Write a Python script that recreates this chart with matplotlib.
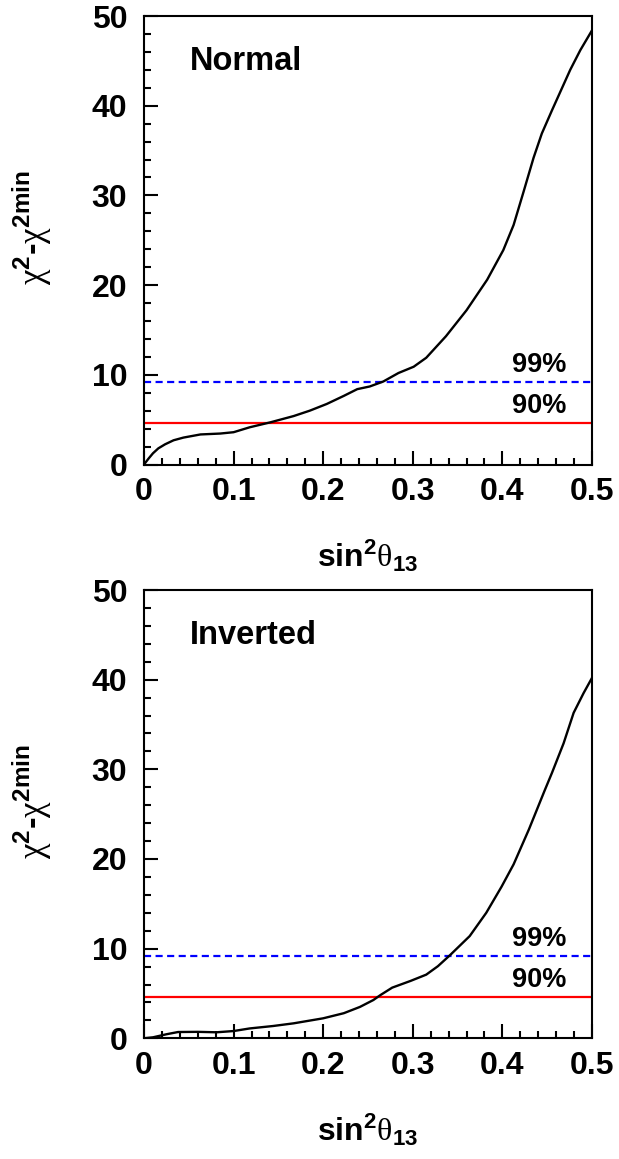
import matplotlib
matplotlib.use("Agg")
import matplotlib.pyplot as plt
from matplotlib.ticker import MultipleLocator

plt.rcParams['font.family'] = ['Liberation Sans', 'DejaVu Sans']
plt.rcParams['mathtext.fontset'] = 'custom'
plt.rcParams['mathtext.rm'] = 'Liberation Sans:bold'
plt.rcParams['mathtext.it'] = 'Liberation Sans:bold'
plt.rcParams['mathtext.bf'] = 'Liberation Sans:bold'
plt.rcParams['mathtext.sf'] = 'Liberation Serif:normal'
plt.rcParams['mathtext.default'] = 'bf'

# Normal hierarchy
x_normal = [0, 0.005, 0.01, 0.016, 0.0235, 0.033, 0.044, 0.063, 0.085, 0.1, 0.118, 0.141,
            0.167, 0.185, 0.204, 0.223, 0.238, 0.252, 0.267, 0.284, 0.301, 0.315,
            0.337, 0.36, 0.383, 0.401, 0.4125, 0.4236, 0.4348, 0.444, 0.4554,
            0.4757, 0.487, 0.5]
y_normal = [0, 0.65, 1.25, 1.8, 2.25, 2.7, 3.0, 3.35, 3.45, 3.6, 4.15, 4.7,
            5.4, 6.0, 6.75, 7.65, 8.4, 8.7, 9.25, 10.2, 10.9, 11.9,
            14.3, 17.2, 20.6, 23.9, 26.7, 30.4, 34.2, 36.9, 39.5,
            44.0, 46.2, 48.4]

# Inverted hierarchy
x_inverted = [0, 0.01, 0.025, 0.038, 0.06, 0.081, 0.1, 0.118, 0.144, 0.167, 0.2,
              0.223, 0.241, 0.256, 0.264, 0.277, 0.2975, 0.315, 0.328, 0.3415,
              0.3635, 0.382, 0.399, 0.4125, 0.4296, 0.447, 0.4553, 0.4683,
              0.4795, 0.4906, 0.5]
y_inverted = [0, 0.11, 0.45, 0.7, 0.72, 0.67, 0.81, 1.1, 1.37, 1.67, 2.23,
              2.8, 3.5, 4.27, 4.83, 5.65, 6.4, 7.1, 8.04, 9.27,
              11.4, 14.0, 16.9, 19.4, 23.3, 27.6, 29.6, 32.9,
              36.3, 38.5, 40.2]

cl_levels = [4.61, 9.21]
cl_labels = ['90%', '99%']
panel_names = ['Normal', 'Inverted']

W, H = 619, 1159
fig = plt.figure(figsize=(W / 100, H / 100), dpi=100)

panels = [(16, 464.5, x_normal, y_normal, panel_names[0]),
          (590, 1038.3, x_inverted, y_inverted, panel_names[1])]

for top, bot, xs, ys, name in panels:
    ax = fig.add_axes([144 / W, 1 - bot / H, 448 / W, (bot - top) / H])
    ax.set_xlim(0, 0.5)
    ax.set_ylim(0, 50)
    ax.plot(xs, ys, color='black', lw=1.7, zorder=3, solid_joinstyle='round')
    ax.axhline(cl_levels[0], color='#ff0000', lw=1.6, zorder=2)
    ax.axhline(cl_levels[1], color='#0000ff', lw=1.6, ls=(0, (3.2, 2.0)), zorder=2)
    ax.text(0.4715, cl_levels[0] + 0.45, cl_labels[0], ha='right', va='bottom',
            fontsize=19.5, fontweight='bold')
    ax.text(0.4715, cl_levels[1] + 0.45, cl_labels[1], ha='right', va='bottom',
            fontsize=19.5, fontweight='bold')
    ax.text(0.051, 44.9, name, ha='left', va='center', fontsize=23.5, fontweight='bold')

    for s in ax.spines.values():
        s.set_linewidth(1.5)
    ax.xaxis.set_major_locator(MultipleLocator(0.1))
    ax.xaxis.set_minor_locator(MultipleLocator(0.02))
    ax.yaxis.set_major_locator(MultipleLocator(10))
    ax.yaxis.set_minor_locator(MultipleLocator(2))
    ax.tick_params(which='both', direction='in', top=False, right=False, width=1.5)
    ax.tick_params(which='major', length=10)
    ax.tick_params(which='minor', length=5)
    ax.tick_params(axis='x', which='major', labelsize=23, pad=9)
    ax.tick_params(axis='y', which='major', labelsize=23, pad=12)
    ax.set_xticks([0, 0.1, 0.2, 0.3, 0.4, 0.5])
    ax.set_xticklabels(['0', '0.1', '0.2', '0.3', '0.4', '0.5'])
    for lab in ax.get_xticklabels() + ax.get_yticklabels():
        lab.set_fontweight('bold')

    ax.set_xlabel(r'sin$^{2}\mathsf{θ}_{13}$', fontsize=23, fontweight='bold', labelpad=22)
    fig.text(32 / W, 1 - (top + 212) / H, r'$\mathsf{χ}^{2}$-$\mathsf{χ}^{2min}$',
             rotation=90, ha='center', va='center', fontsize=25, fontweight='bold')

fig.savefig('out.png', dpi=100)
